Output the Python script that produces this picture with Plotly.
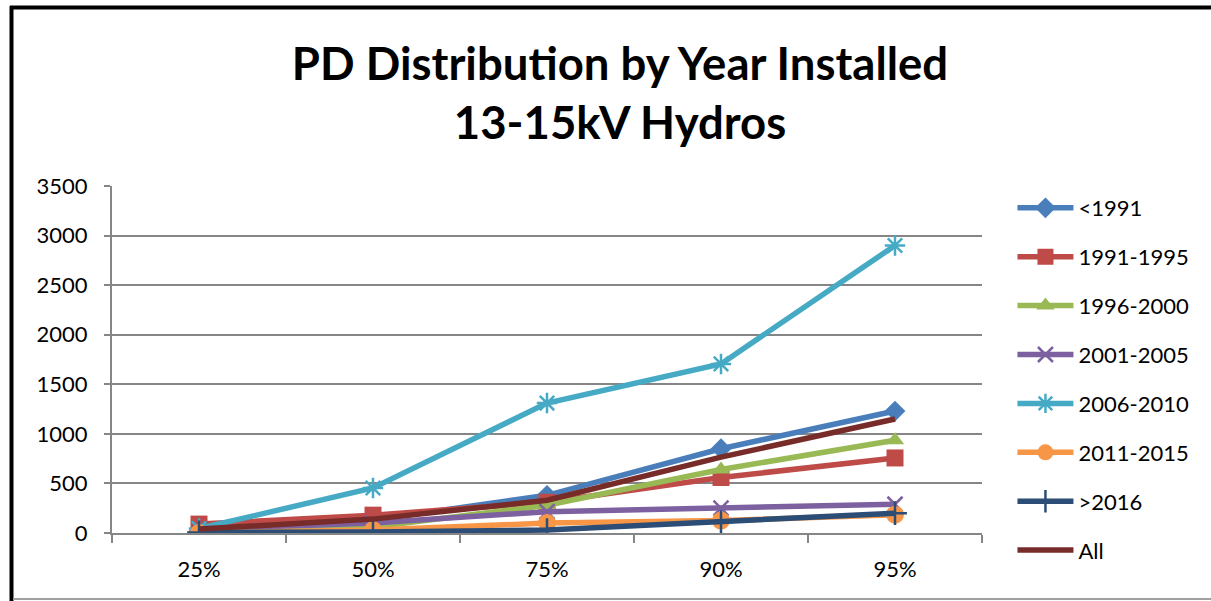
import plotly.graph_objects as go

categories = ["25%", "50%", "75%", "90%", "95%"]
series_names = ["<1991", "1991-1995", "1996-2000", "2001-2005", "2006-2010", "2011-2015", ">2016", "All"]
v_lt1991 = [20, 130, 380, 850, 1230]
v_1991_1995 = [90, 180, 310, 560, 757]
v_1996_2000 = [10, 60, 280, 640, 935]
v_2001_2005 = [40, 100, 215, 250, 290]
v_2006_2010 = [45, 454, 1311, 1705, 2900]
v_2011_2015 = [0, 30, 100, 125, 185]
v_gt2016 = [5, 10, 30, 110, 200]
v_all = [40, 140, 330, 765, 1150]
series_values = [v_lt1991, v_1991_1995, v_1996_2000, v_2001_2005, v_2006_2010, v_2011_2015, v_gt2016, v_all]
y_ticks = [0, 500, 1000, 1500, 2000, 2500, 3000, 3500]

colors = ["#4A7EBB", "#BE4B48", "#98B954", "#7D60A0", "#46AAC5", "#F79646", "#2C4D75", "#772C2A"]
symbols = ["diamond", "square", "triangle-up", "x-thin", "asterisk", "circle", "cross-thin", None]
sizes = [16, 17, 16, 15, 17, 18, 17, 0]

FONT = "Lato, 'Noto Sans', sans-serif"

fig = go.Figure()
for i, (name, vals) in enumerate(zip(series_names, series_values)):
    sym = symbols[i]
    if sym is None:
        mode = "lines"
        marker = None
    else:
        mode = "lines+markers"
        if sym in ("x-thin", "asterisk", "cross-thin"):
            marker = dict(symbol=sym, size=sizes[i], color=colors[i], line=dict(color=colors[i], width=2.5))
        else:
            marker = dict(symbol=sym, size=sizes[i], color=colors[i], line=dict(width=0))
    fig.add_trace(go.Scatter(
        x=categories, y=vals, name=name, mode=mode,
        line=dict(color=colors[i], width=5.5),
        marker=marker, legendgroup=name,
    ))

W, H = 1211, 601
L, R, T, B = 112, 229, 186, 68

def px(x):
    return (x - L) / (W - L - R)

def py(y):
    return (H - B - y) / (H - T - B)

fig.update_layout(
    width=W, height=H,
    margin=dict(l=L, r=R, t=T, b=B),
    paper_bgcolor="white", plot_bgcolor="white",
    font=dict(family=FONT, color="#000000"),
    title=dict(
        text="<b>PD Distribution by Year Installed<br>13-15kV Hydros</b>",
        x=620 / W, xanchor="center", xref="container",
        y=1 - 80 / H, yanchor="middle", yref="container",
        font=dict(size=45.5, family=FONT, color="#000000"),
    ),
    showlegend=True,
    legend=dict(
        x=1.035, y=py(187), xanchor="left", yanchor="top",
        font=dict(size=22, family=FONT, color="#000000"),
        tracegroupgap=17.3, itemwidth=56, traceorder="grouped",
        bgcolor="rgba(0,0,0,0)", maxheight=600,
    ),
    xaxis=dict(
        type="category", categoryorder="array", categoryarray=categories,
        range=[-0.5, 4.5],
        showgrid=False, showline=True, linecolor="#868686", linewidth=2,
        ticks="outside", ticklen=8, tickwidth=2, tickcolor="#868686",
        tickson="boundaries",
        tickfont=dict(size=22, family=FONT, color="#000000"),
        zeroline=False, ticklabelstandoff=16,
    ),
    yaxis=dict(
        range=[0, 3500], tickvals=y_ticks,
        showgrid=True, gridcolor="#868686", gridwidth=2,
        showline=True, linecolor="#868686", linewidth=2,
        ticks="outside", ticklen=6, tickwidth=2, tickcolor="#868686",
        tickfont=dict(size=22, family=FONT, color="#000000"),
        zeroline=False, ticklabelstandoff=12,
    ),
    shapes=[
        dict(type="line", xref="paper", yref="paper", x0=px(10), x1=px(1211), y0=py(7.5), y1=py(7.5),
             line=dict(color="#000000", width=4)),
        dict(type="line", xref="paper", yref="paper", x0=px(11.5), x1=px(11.5), y0=py(6), y1=py(601),
             line=dict(color="#000000", width=4)),
        dict(type="line", xref="paper", yref="paper", x0=px(13), x1=px(1211), y0=py(599), y1=py(599),
             line=dict(color="#A0A0A0", width=2)),
    ],
)

fig.write_html("out.html", config={"displayModeBar": False},
               post_script="document.body.style.margin='0px';document.body.style.overflow='hidden';")
